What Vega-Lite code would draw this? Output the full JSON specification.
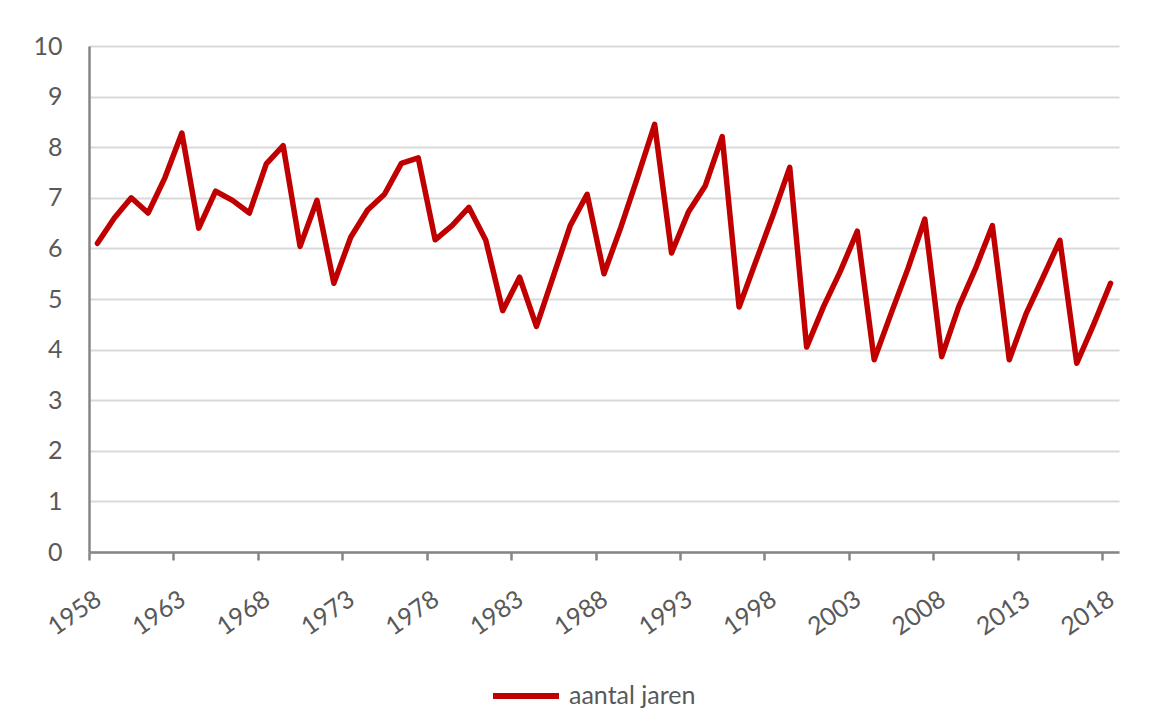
{
  "$schema": "https://vega.github.io/schema/vega-lite/v6.json",
  "width": 1030,
  "height": 506,
  "autosize": {"type": "none"},
  "padding": {"left": 89, "top": 46, "right": 48, "bottom": 156},
  "background": "white",
  "config": {
    "view": {"stroke": null},
    "font": "Lato",
    "axis": {
      "labelFont": "Lato",
      "labelFontSize": 25,
      "labelColor": "#595959",
      "domainColor": "#868686",
      "domainWidth": 2.5,
      "tickColor": "#868686",
      "tickWidth": 2.5,
      "gridColor": "#d9d9d9",
      "gridWidth": 2,
      "title": null
    },
    "legend": {
      "labelFont": "Lato",
      "labelFontSize": 25,
      "labelColor": "#595959",
      "padding": 0
    }
  },
  "data": {
    "values": [
      {"jaar": 1958, "waarde": 6.1, "reeks": "aantal jaren"},
      {"jaar": 1959, "waarde": 6.6, "reeks": "aantal jaren"},
      {"jaar": 1960, "waarde": 7.0, "reeks": "aantal jaren"},
      {"jaar": 1961, "waarde": 6.7, "reeks": "aantal jaren"},
      {"jaar": 1962, "waarde": 7.4, "reeks": "aantal jaren"},
      {"jaar": 1963, "waarde": 8.28, "reeks": "aantal jaren"},
      {"jaar": 1964, "waarde": 6.4, "reeks": "aantal jaren"},
      {"jaar": 1965, "waarde": 7.13, "reeks": "aantal jaren"},
      {"jaar": 1966, "waarde": 6.95, "reeks": "aantal jaren"},
      {"jaar": 1967, "waarde": 6.7, "reeks": "aantal jaren"},
      {"jaar": 1968, "waarde": 7.67, "reeks": "aantal jaren"},
      {"jaar": 1969, "waarde": 8.03, "reeks": "aantal jaren"},
      {"jaar": 1970, "waarde": 6.04, "reeks": "aantal jaren"},
      {"jaar": 1971, "waarde": 6.95, "reeks": "aantal jaren"},
      {"jaar": 1972, "waarde": 5.31, "reeks": "aantal jaren"},
      {"jaar": 1973, "waarde": 6.22, "reeks": "aantal jaren"},
      {"jaar": 1974, "waarde": 6.76, "reeks": "aantal jaren"},
      {"jaar": 1975, "waarde": 7.07, "reeks": "aantal jaren"},
      {"jaar": 1976, "waarde": 7.68, "reeks": "aantal jaren"},
      {"jaar": 1977, "waarde": 7.79, "reeks": "aantal jaren"},
      {"jaar": 1978, "waarde": 6.17, "reeks": "aantal jaren"},
      {"jaar": 1979, "waarde": 6.45, "reeks": "aantal jaren"},
      {"jaar": 1980, "waarde": 6.81, "reeks": "aantal jaren"},
      {"jaar": 1981, "waarde": 6.16, "reeks": "aantal jaren"},
      {"jaar": 1982, "waarde": 4.77, "reeks": "aantal jaren"},
      {"jaar": 1983, "waarde": 5.43, "reeks": "aantal jaren"},
      {"jaar": 1984, "waarde": 4.46, "reeks": "aantal jaren"},
      {"jaar": 1985, "waarde": 5.45, "reeks": "aantal jaren"},
      {"jaar": 1986, "waarde": 6.45, "reeks": "aantal jaren"},
      {"jaar": 1987, "waarde": 7.07, "reeks": "aantal jaren"},
      {"jaar": 1988, "waarde": 5.5, "reeks": "aantal jaren"},
      {"jaar": 1989, "waarde": 6.42, "reeks": "aantal jaren"},
      {"jaar": 1990, "waarde": 7.42, "reeks": "aantal jaren"},
      {"jaar": 1991, "waarde": 8.45, "reeks": "aantal jaren"},
      {"jaar": 1992, "waarde": 5.91, "reeks": "aantal jaren"},
      {"jaar": 1993, "waarde": 6.72, "reeks": "aantal jaren"},
      {"jaar": 1994, "waarde": 7.24, "reeks": "aantal jaren"},
      {"jaar": 1995, "waarde": 8.21, "reeks": "aantal jaren"},
      {"jaar": 1996, "waarde": 4.84, "reeks": "aantal jaren"},
      {"jaar": 1997, "waarde": 5.75, "reeks": "aantal jaren"},
      {"jaar": 1998, "waarde": 6.65, "reeks": "aantal jaren"},
      {"jaar": 1999, "waarde": 7.6, "reeks": "aantal jaren"},
      {"jaar": 2000, "waarde": 4.05, "reeks": "aantal jaren"},
      {"jaar": 2001, "waarde": 4.85, "reeks": "aantal jaren"},
      {"jaar": 2002, "waarde": 5.55, "reeks": "aantal jaren"},
      {"jaar": 2003, "waarde": 6.34, "reeks": "aantal jaren"},
      {"jaar": 2004, "waarde": 3.8, "reeks": "aantal jaren"},
      {"jaar": 2005, "waarde": 4.71, "reeks": "aantal jaren"},
      {"jaar": 2006, "waarde": 5.6, "reeks": "aantal jaren"},
      {"jaar": 2007, "waarde": 6.58, "reeks": "aantal jaren"},
      {"jaar": 2008, "waarde": 3.86, "reeks": "aantal jaren"},
      {"jaar": 2009, "waarde": 4.84, "reeks": "aantal jaren"},
      {"jaar": 2010, "waarde": 5.6, "reeks": "aantal jaren"},
      {"jaar": 2011, "waarde": 6.45, "reeks": "aantal jaren"},
      {"jaar": 2012, "waarde": 3.8, "reeks": "aantal jaren"},
      {"jaar": 2013, "waarde": 4.71, "reeks": "aantal jaren"},
      {"jaar": 2014, "waarde": 5.43, "reeks": "aantal jaren"},
      {"jaar": 2015, "waarde": 6.16, "reeks": "aantal jaren"},
      {"jaar": 2016, "waarde": 3.73, "reeks": "aantal jaren"},
      {"jaar": 2017, "waarde": 4.5, "reeks": "aantal jaren"},
      {"jaar": 2018, "waarde": 5.31, "reeks": "aantal jaren"}
    ]
  },
  "mark": {"type": "line", "strokeWidth": 5.5, "strokeJoin": "round", "strokeCap": "round"},
  "encoding": {
    "x": {
      "field": "jaar",
      "type": "quantitative",
      "scale": {"domain": [1957.5, 2018.5], "nice": false, "zero": false},
      "axis": {
        "values": [1957.5, 1962.5, 1967.5, 1972.5, 1977.5, 1982.5, 1987.5, 1992.5, 1997.5, 2002.5, 2007.5, 2012.5, 2017.5],
        "labelExpr": "format(datum.value + 0.5, 'd')",
        "grid": false,
        "tickSize": 8,
        "labelAngle": -35,
        "labelAlign": "right",
        "labelBaseline": "middle",
        "labelPadding": 36,
        "labelOffset": 9,
        "labelOverlap": false,
        "labelFlush": false,
        "labelBound": false
      }
    },
    "y": {
      "field": "waarde",
      "type": "quantitative",
      "scale": {"domain": [0, 10], "nice": false},
      "axis": {
        "values": [0, 1, 2, 3, 4, 5, 6, 7, 8, 9, 10],
        "ticks": false,
        "labelPadding": 27,
        "grid": true
      }
    },
    "color": {
      "field": "reeks",
      "type": "nominal",
      "scale": {"range": ["#c00000"]},
      "legend": {
        "title": null,
        "orient": "none",
        "legendX": 401,
        "legendY": 614,
        "direction": "horizontal",
        "symbolType": "stroke",
        "symbolSize": 4356,
        "symbolStrokeWidth": 6,
        "labelOffset": 7
      }
    }
  }
}
